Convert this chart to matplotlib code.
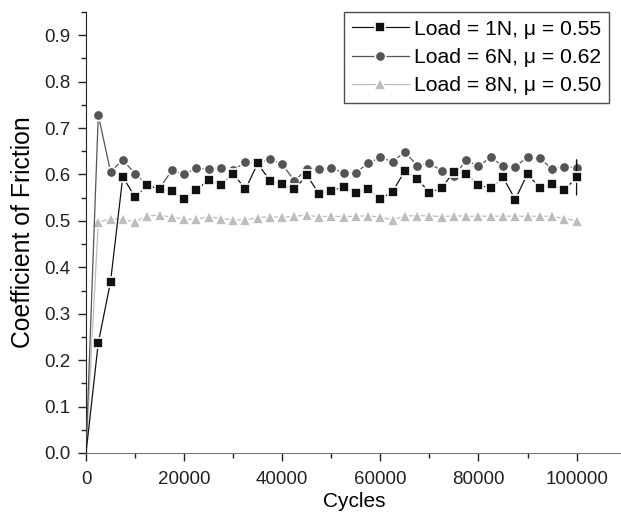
import matplotlib
matplotlib.use("Agg")
import matplotlib.pyplot as plt
from matplotlib.ticker import MultipleLocator, FormatStrFormatter

plt.rcParams['font.family'] = ['Liberation Sans', 'DejaVu Sans']

cycles = [0, 2500, 5000, 7500, 10000, 12500, 15000, 17500, 20000, 22500,
          25000, 27500, 30000, 32500, 35000, 37500, 40000, 42500, 45000, 47500,
          50000, 52500, 55000, 57500, 60000, 62500, 65000, 67500, 70000, 72500,
          75000, 77500, 80000, 82500, 85000, 87500, 90000, 92500, 95000, 97500,
          100000]

load1_cycles = cycles + [100000, 100000]
load1 = [0.0, 0.237, 0.369, 0.595, 0.551, 0.577, 0.568, 0.564, 0.547, 0.566,
         0.589, 0.577, 0.602, 0.568, 0.624, 0.586, 0.579, 0.568, 0.599, 0.558,
         0.565, 0.573, 0.561, 0.568, 0.547, 0.563, 0.608, 0.591, 0.561, 0.571,
         0.606, 0.601, 0.577, 0.570, 0.594, 0.546, 0.602, 0.570, 0.579, 0.566,
         0.594, 0.631, 0.556]

load6 = [0.0, 0.728, 0.606, 0.631, 0.602, 0.577, 0.570, 0.609, 0.600, 0.613,
         0.612, 0.614, 0.609, 0.627, 0.624, 0.633, 0.622, 0.586, 0.612, 0.612,
         0.613, 0.604, 0.604, 0.624, 0.637, 0.627, 0.649, 0.619, 0.624, 0.608,
         0.596, 0.631, 0.618, 0.637, 0.618, 0.617, 0.637, 0.635, 0.612, 0.617,
         0.614]

load8 = [0.0, 0.497, 0.505, 0.503, 0.498, 0.511, 0.512, 0.508, 0.504, 0.503,
         0.509, 0.505, 0.502, 0.502, 0.507, 0.509, 0.508, 0.510, 0.512, 0.509,
         0.510, 0.509, 0.510, 0.511, 0.508, 0.502, 0.511, 0.511, 0.511, 0.509,
         0.511, 0.510, 0.510, 0.510, 0.510, 0.510, 0.510, 0.510, 0.510, 0.505,
         0.500]

labels = ["Load = 1N, \u03bc = 0.55", "Load = 6N, \u03bc = 0.62", "Load = 8N, \u03bc = 0.50"]

fig = plt.figure(figsize=(6.21, 5.14), dpi=100)
ax = fig.add_axes([0.1385, 0.1187, 0.865, 0.858])

ax.plot(cycles, load8, color='#bdbdbd', marker='^', markersize=8, lw=0.9,
        markeredgewidth=1.2, markeredgecolor='white', label=labels[2], zorder=2)
ax.plot(cycles, load6, color='#555555', marker='o', markersize=7.5, lw=0.9,
        markeredgewidth=1.2, markeredgecolor='white', markevery=slice(1, None),
        label=labels[1], zorder=3)
ax.plot(load1_cycles, load1, color='#111111', marker='s', markersize=6.5, lw=0.9,
        markeredgewidth=1.2, markeredgecolor='white', markevery=slice(1, 41),
        label=labels[0], zorder=4)

ax.set_xlim(0, 109500)
ax.set_ylim(0, 0.95)
ax.xaxis.set_major_locator(MultipleLocator(20000))
ax.xaxis.set_minor_locator(MultipleLocator(10000))
ax.yaxis.set_major_locator(MultipleLocator(0.1))
ax.yaxis.set_minor_locator(MultipleLocator(0.05))
ax.yaxis.set_major_formatter(FormatStrFormatter('%.1f'))

for s in ['top', 'right']:
    ax.spines[s].set_visible(False)
ax.spines['left'].set_color('#222222')
ax.spines['bottom'].set_color('#777777')
ax.tick_params(which='major', direction='out', length=5.5, width=1, labelsize=13.5,
               colors='#222222')
ax.tick_params(which='minor', direction='out', length=3.5, width=1, colors='#222222')
ax.tick_params(axis='x', which='major', pad=7.5)
ax.tick_params(axis='y', which='major', pad=5.5)

ax.set_xlabel("Cycles", fontsize=15, labelpad=3)
ax.set_ylabel("Coefficient of Friction", fontsize=17.8, labelpad=6.5)

h, l = ax.get_legend_handles_labels()
order = [2, 1, 0]
leg = ax.legend([h[i] for i in order], [l[i] for i in order], loc='upper right',
                bbox_to_anchor=(609 / 621, 1 - 12 / 514), bbox_transform=fig.transFigure,
                borderaxespad=0, fontsize=15.2, frameon=True, fancybox=False,
                edgecolor='#222222', handlelength=2.7, handletextpad=0.25,
                borderpad=0.36, labelspacing=0.44)
leg.get_frame().set_linewidth(1.0)

fig.savefig("out.png", dpi=100)
